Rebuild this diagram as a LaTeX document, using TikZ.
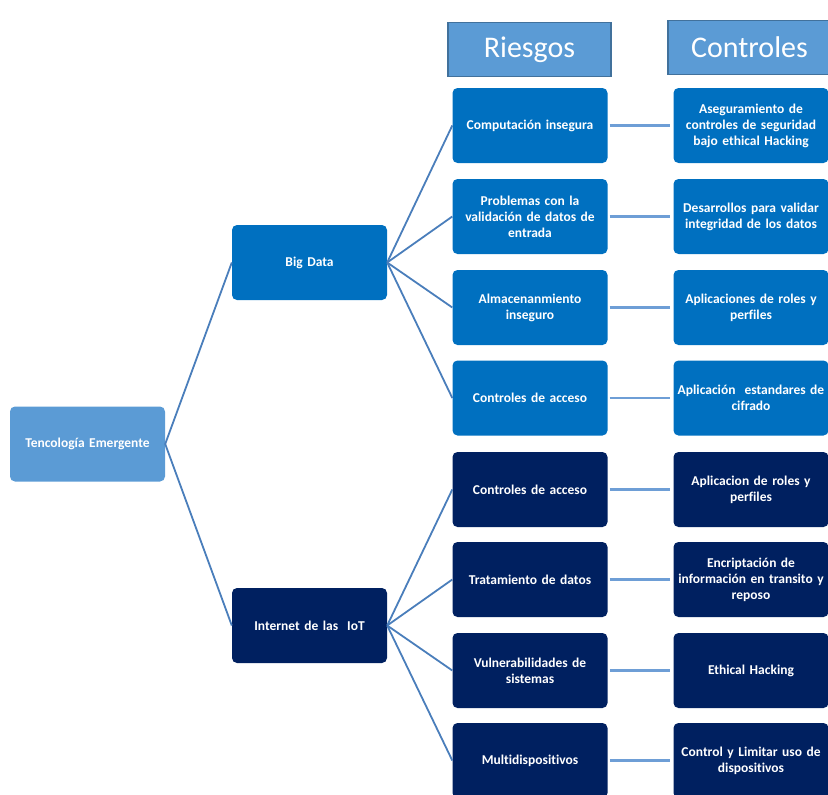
\documentclass[tikz,border=0pt]{standalone}
\usepackage{fontspec}
\setmainfont[Ligatures={NoCommon}]{Carlito}
\definecolor{lblue}{HTML}{5B9BD5}
\definecolor{mblue}{HTML}{0070C0}
\definecolor{dblue}{HTML}{002060}
\definecolor{hbord}{HTML}{41719C}
\definecolor{tree}{HTML}{4A7EBB}
\definecolor{hline}{HTML}{6E9ED6}
\begin{document}
\begin{tikzpicture}[x=1pt,y=-1pt,
  box/.style={rectangle,rounded corners=5pt,minimum width=155pt,minimum height=75pt,
    text width=152pt,align=center,text=white,font=\fontsize{13.5}{16}\selectfont\bfseries,inner sep=0pt},
  light/.style={box,fill=lblue},
  mid/.style={box,fill=mblue},
  dark/.style={box,fill=dblue},
  hdr/.style={rectangle,fill=lblue,draw=hbord,line width=1.5pt,minimum width=163pt,minimum height=54pt,
    text=white,font=\fontsize{30}{34}\selectfont,inner sep=0pt},
  tl/.style={draw=tree,line width=1.8pt},
  hl/.style={draw=hline,line width=2.5pt,shorten <=2pt,shorten >=3pt}]
\useasboundingbox (0,0) rectangle (828,795);
\node[hdr] (hr) at (529.5,49.5) {Riesgos};
\node[hdr] (hc) at (749.5,47.5) {Controles};
\node[light] (root) at (87.5,444) {Tencología Emergente};
\node[mid] (bd) at (309.5,262.5) {Big Data};
\node[dark] (iot) at (309.5,625.5) {Internet de las\ \ IoT};
\node[mid] (r1) at (530,125.5) {Computación insegura};
\node[mid] (r2) at (530,216.5) {Problemas con la\\validación de datos de\\entrada};
\node[mid] (r3) at (530,307.5) {Almacenanmiento\\inseguro};
\node[mid] (r4) at (530,398) {Controles de acceso};
\node[dark] (r5) at (530,489.5) {Controles de acceso};
\node[dark] (r6) at (530,579.5) {Tratamiento de datos};
\node[dark] (r7) at (530,670.5) {Vulnerabilidades de\\sistemas};
\node[dark] (r8) at (530,760.5) {Multidispositivos};
\node[mid] (c1) at (751,125.5) {Aseguramiento de\\controles de seguridad\\bajo ethical Hacking};
\node[mid] (c2) at (751,216.5) {Desarrollos para validar\\integridad de los datos};
\node[mid] (c3) at (751,307.5) {Aplicaciones de roles y\\perfiles};
\node[mid] (c4) at (751,398) {Aplicación\ \ estandares de\\cifrado};
\node[dark] (c5) at (751,489.5) {Aplicacion de roles y\\perfiles};
\node[dark] (c6) at (751,579.5) {Encriptación de\\información en transito y\\reposo};
\node[dark] (c7) at (751,670.5) {Ethical Hacking};
\node[dark] (c8) at (751,760.5) {Control y Limitar uso de\\dispositivos};
\draw[tl] (bd.west) -- (root.east) -- (iot.west);
\foreach \r in {r1,r2,r3,r4} \draw[tl] (bd.east) -- (\r.west);
\foreach \r in {r5,r6,r7,r8} \draw[tl] (iot.east) -- (\r.west);
\foreach \i in {1,...,8} \draw[hl] (r\i.east) -- (c\i.west);
\end{tikzpicture}
\end{document}
